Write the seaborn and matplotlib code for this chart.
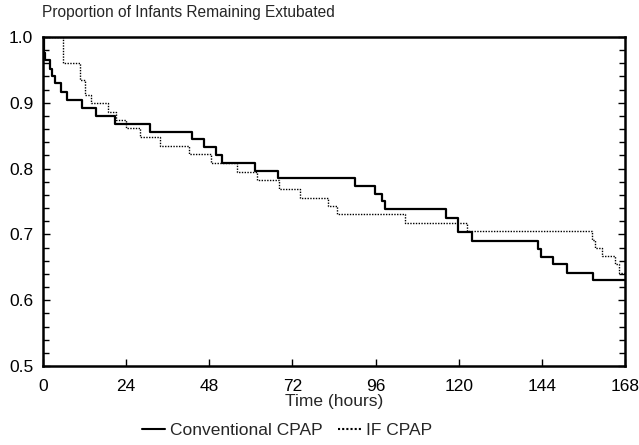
import numpy as np
import pandas as pd
import matplotlib
matplotlib.use("Agg")
import matplotlib.pyplot as plt
import seaborn as sns
from matplotlib.ticker import MultipleLocator

# === DATA (Kaplan-Meier steps) ===
conv_time = [0, 0.3, 0.7, 2.1, 2.6, 3.4, 5.1, 7.0, 11.3, 15.4, 20.7, 30.9, 42.9, 46.5,
             50.0, 51.6, 61.2, 67.9, 90.1, 95.8, 97.8, 98.7, 116.3, 119.7, 123.9,
             143.0, 143.8, 147.3, 151.4, 158.7, 168]
conv_surv = [1.0, 0.976, 0.965, 0.952, 0.941, 0.930, 0.917, 0.904, 0.892, 0.880, 0.868,
             0.856, 0.845, 0.833, 0.821, 0.809, 0.797, 0.785, 0.774, 0.762, 0.751, 0.739,
             0.725, 0.703, 0.690, 0.678, 0.666, 0.655, 0.642, 0.630, 0.630]

if_time = [0, 5.8, 10.6, 12.0, 13.8, 18.8, 21.2, 24.0, 28.0, 33.8, 42.1, 48.5, 55.9,
           61.7, 68.1, 74.2, 82.4, 85.0, 104.5, 122.3, 158.4, 159.4, 161.3, 165.1,
           166.4, 168]
if_surv = [1.0, 0.960, 0.935, 0.912, 0.899, 0.886, 0.874, 0.862, 0.848, 0.835, 0.822,
           0.808, 0.795, 0.782, 0.769, 0.756, 0.743, 0.731, 0.718, 0.705, 0.691, 0.680,
           0.667, 0.655, 0.642, 0.642]

groups = ["Conventional CPAP", "IF CPAP"]
x_ticks = [0, 24, 48, 72, 96, 120, 144, 168]

df = pd.concat([
    pd.DataFrame({"t": conv_time, "s": conv_surv, "group": groups[0]}),
    pd.DataFrame({"t": if_time, "s": if_surv, "group": groups[1]}),
], ignore_index=True)

# === PLOT ===
sns.set_style("ticks")
plt.rcParams["font.family"] = ["Liberation Sans", "DejaVu Sans"]

fig = plt.figure(figsize=(6.39, 4.45), dpi=100)
ax = fig.add_axes([0.0673, 0.1775, 0.9107, 0.7394])

sns.lineplot(data=df, x="t", y="s", style="group", hue="group",
             palette=["black", "black"], dashes={groups[0]: "", groups[1]: (1, 1)},
             drawstyle="steps-post", estimator=None, sort=False, ax=ax)
ax.lines[0].set_linewidth(1.6)
ax.lines[1].set_linewidth(1.0)

ax.set_xlim(0, 168)
ax.set_ylim(0.5, 1.0)
ax.set_xticks(x_ticks)
ax.yaxis.set_major_locator(MultipleLocator(0.1))
ax.yaxis.set_minor_locator(MultipleLocator(0.02))
ax.yaxis.set_major_formatter(plt.FormatStrFormatter("%.1f"))
ax.tick_params(axis="both", which="both", direction="in", right=True, labelsize=12.5,
               color="black", labelcolor="black")
ax.tick_params(axis="both", which="major", length=5, width=1)
ax.tick_params(axis="y", which="minor", length=4, width=1)
ax.tick_params(axis="y", pad=7)
ax.tick_params(axis="x", pad=9)
for sp in ax.spines.values():
    sp.set_linewidth(1.8)
    sp.set_color("black")

ax.set_xlabel("Time (hours)", fontsize=12.5, labelpad=0)
ax.set_ylabel("")
fig.text(0.066, 0.955, "Proportion of Infants Remaining Extubated", fontsize=11.2,
         ha="left", va="bottom")

handles, labels = ax.get_legend_handles_labels()
ax.legend(handles, labels, loc="center", bbox_to_anchor=(0.42, -0.195), ncol=2,
          frameon=False, fontsize=12.5, handlelength=1.3, handletextpad=0.3,
          columnspacing=0.9)

fig.savefig("out.png", dpi=100)
